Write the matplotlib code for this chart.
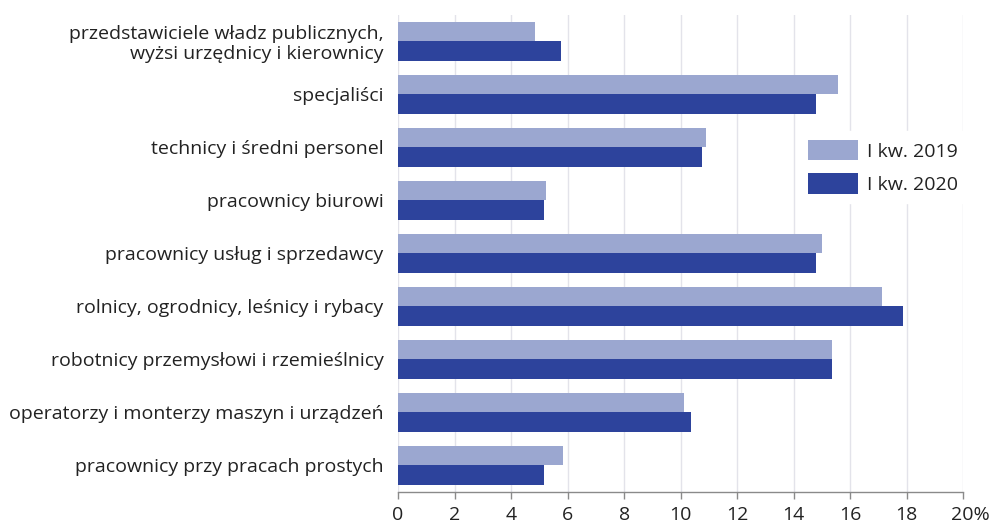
import matplotlib
matplotlib.use("Agg")
import matplotlib.pyplot as plt
import matplotlib.transforms as mtransforms
import numpy as np

plt.rcParams["font.family"] = ["Open Sans", "DejaVu Sans"]

categories = [
    "przedstawiciele władz publicznych,\nwyżsi urzędnicy i kierownicy",
    "specjaliści",
    "technicy i średni personel",
    "pracownicy biurowi",
    "pracownicy usług i sprzedawcy",
    "rolnicy, ogrodnicy, leśnicy i rybacy",
    "robotnicy przemysłowi i rzemieślnicy",
    "operatorzy i monterzy maszyn i urządzeń",
    "pracownicy przy pracach prostych",
]
q1_2019 = [4.86, 15.58, 10.90, 5.25, 14.99, 17.12, 15.37, 10.13, 5.84]
q1_2020 = [5.75, 14.79, 10.76, 5.18, 14.79, 17.86, 15.37, 10.38, 5.18]
series_labels = ["I kw. 2019", "I kw. 2020"]
xticks = [0, 2, 4, 6, 8, 10, 12, 14, 16, 18, 20]

light = "#9ba7d0"
dark = "#2d439c"
text_col = "#222222"
fs = 14

W, H = 989, 526
fig = plt.figure(figsize=(W / 100, H / 100), dpi=100)
ax = fig.add_axes([398 / W, 1 - 491.7 / H, (963.3 - 398) / W, (491.7 - 15) / H])

y = np.arange(len(categories))
h = 0.365
ax.barh(y - h / 2, q1_2019, height=h, color=light, label=series_labels[0], zorder=2)
ax.barh(y + h / 2, q1_2020, height=h, color=dark, label=series_labels[1], zorder=2)

ax.set_ylim(len(categories) - 0.5, -0.5)
ax.set_xlim(0, 20)
ax.set_yticks(y)
ax.set_yticklabels(categories, fontsize=fs, color=text_col, ha="right", linespacing=1.1)
ax.tick_params(axis="y", length=0, pad=10.5)

ax.set_xticks(xticks)
labels = [str(t) for t in xticks]
labels[-1] = "20%"
ax.set_xticklabels(labels, fontsize=fs, color=text_col)
ax.tick_params(axis="x", length=5, width=1, color="#8a8a8a", pad=5)
last = ax.get_xticklabels()[-1]
last.set_transform(last.get_transform() + mtransforms.ScaledTranslation(7 / 100, 0, fig.dpi_scale_trans))

ax.grid(axis="x", color="#e3e3ea", linewidth=1, zorder=0)
ax.set_axisbelow(True)
for s in ["top", "right", "left"]:
    ax.spines[s].set_visible(False)
ax.spines["bottom"].set_color("#8a8a8a")
ax.spines["bottom"].set_linewidth(1)

leg = ax.legend(
    loc="upper left",
    bbox_to_anchor=(799 / W, 1 - 131 / H),
    bbox_transform=fig.transFigure,
    fontsize=fs,
    frameon=True,
    fancybox=False,
    edgecolor="white",
    facecolor="white",
    framealpha=1,
    borderpad=0.45,
    borderaxespad=0,
    handlelength=2.6,
    handleheight=1.25,
    handletextpad=0.45,
    labelspacing=0.65,
)
for t in leg.get_texts():
    t.set_color(text_col)

fig.savefig("out.png", dpi=100, facecolor="white")
